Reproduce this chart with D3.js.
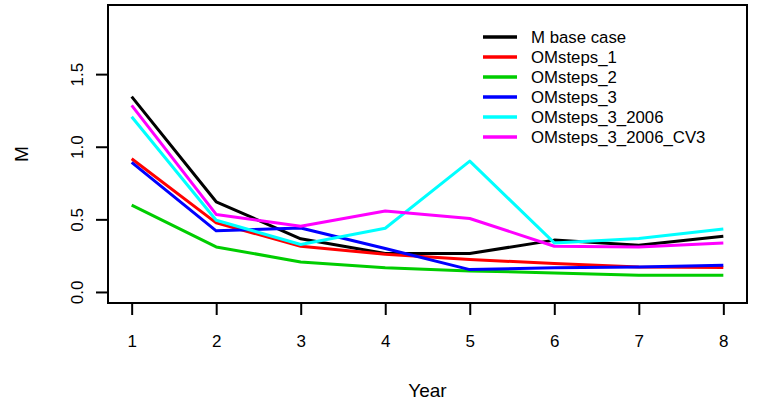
<!DOCTYPE html>
<html>
<head>
<meta charset="utf-8">
<script src="https://cdn.jsdelivr.net/npm/d3@7"></script>
<style>
    body { margin: 0; background: #fff; }
    text { font-family: "Liberation Sans", Arial, sans-serif; fill: #000; }
</style>
</head>
<body>
<svg id="chart" width="759" height="406"></svg>
<script>
const years = [1, 2, 3, 4, 5, 6, 7, 8];
const y_ticks = [0.0, 0.5, 1.0, 1.5];

const series_names = ["M base case", "OMsteps_1", "OMsteps_2", "OMsteps_3", "OMsteps_3_2006", "OMsteps_3_2006_CV3"];
const series_colors = ["#000000", "#ff0000", "#00cd00", "#0000ff", "#00ffff", "#ff00ff"];

const m_base = [1.345, 0.621, 0.366, 0.265, 0.265, 0.357, 0.322, 0.384];
const om_1 = [0.917, 0.476, 0.315, 0.260, 0.223, 0.196, 0.172, 0.168];
const om_2 = [0.598, 0.310, 0.207, 0.166, 0.145, 0.131, 0.115, 0.115];
const om_3 = [0.892, 0.421, 0.441, 0.299, 0.154, 0.166, 0.172, 0.184];
const om_3_2006 = [1.207, 0.494, 0.327, 0.439, 0.901, 0.338, 0.368, 0.434];
const om_3_2006_cv3 = [1.285, 0.534, 0.453, 0.557, 0.506, 0.315, 0.310, 0.338];

const all_series = [m_base, om_1, om_2, om_3, om_3_2006, om_3_2006_cv3];

(function (d3) {
    'use strict';

    const svg = d3.select("#chart");

    // plot box, R style: data range padded by 4% on each side
    const box = {left: 108, top: 5, right: 747, bottom: 303};
    const xpad = (8 - 1) * 0.04;
    const ylim = [0, 1.9];
    const ypad = (ylim[1] - ylim[0]) * 0.04;

    const x = d3.scaleLinear().domain([1 - xpad, 8 + xpad]).range([box.left, box.right]);
    const y = d3.scaleLinear().domain([ylim[0] - ypad, ylim[1] + ypad]).range([box.bottom, box.top]);

    const line = d3.line()
        .x((d, i) => x(years[i]))
        .y(d => y(d));

    svg.append("g")
        .selectAll("path")
        .data(all_series)
        .enter()
        .append("path")
        .attr("d", d => line(d))
        .style("fill", "none")
        .style("stroke", (d, i) => series_colors[i])
        .style("stroke-width", 3)
        .style("stroke-linejoin", "round");

    // box
    svg.append("rect")
        .attr("x", box.left)
        .attr("y", box.top)
        .attr("width", box.right - box.left)
        .attr("height", box.bottom - box.top)
        .style("fill", "none")
        .style("stroke", "#000")
        .style("stroke-width", 2);

    // x axis
    const x_axis = svg.append("g")
        .attr("transform", "translate(0," + box.bottom + ")")
        .call(d3.axisBottom(x).tickValues(years).tickSize(12).tickPadding(20).tickFormat(d3.format("d")));
    x_axis.select(".domain")
        .attr("d", "M" + x(1) + ",0H" + x(8))
        .style("stroke-width", 2);
    x_axis.selectAll(".tick line").style("stroke-width", 2);
    x_axis.selectAll("text").style("font-size", "17px").style("font-family", "Liberation Sans, Arial, sans-serif");

    // y axis, labels rotated like R's default
    const y_axis = svg.append("g")
        .attr("transform", "translate(" + box.left + ",0)")
        .call(d3.axisLeft(y).tickValues(y_ticks).tickSize(12).tickFormat(d3.format(".1f")));
    y_axis.select(".domain")
        .attr("d", "M0," + y(0) + "V" + y(1.5))
        .style("stroke-width", 2);
    y_axis.selectAll(".tick line").style("stroke-width", 2);
    y_axis.selectAll("text").remove();
    y_axis.selectAll(".tick").append("text")
        .attr("transform", "translate(-31,0) rotate(-90)")
        .attr("text-anchor", "middle")
        .attr("dy", "0.35em")
        .style("font-size", "17px")
        .text(d => d3.format(".1f")(d));

    // axis titles
    svg.append("text")
        .attr("x", (box.left + box.right) / 2)
        .attr("y", 397)
        .attr("text-anchor", "middle")
        .style("font-size", "19px")
        .text("Year");

    svg.append("text")
        .attr("transform", "translate(28," + ((box.top + box.bottom) / 2) + ") rotate(-90)")
        .attr("text-anchor", "middle")
        .style("font-size", "19px")
        .text("M");

    // legend
    const legend = svg.append("g")
        .attr("transform", "translate(483,37)");
    const item = legend.selectAll("g")
        .data(series_names)
        .enter()
        .append("g")
        .attr("transform", (d, i) => "translate(0," + (i * 20) + ")");
    item.append("line")
        .attr("x1", 0)
        .attr("x2", 34)
        .style("stroke", (d, i) => series_colors[i])
        .style("stroke-width", 3.5);
    item.append("text")
        .attr("x", 48)
        .attr("dy", "0.35em")
        .style("font-size", "16.8px")
        .text(d => d);

}(d3));
</script>
</body>
</html>
